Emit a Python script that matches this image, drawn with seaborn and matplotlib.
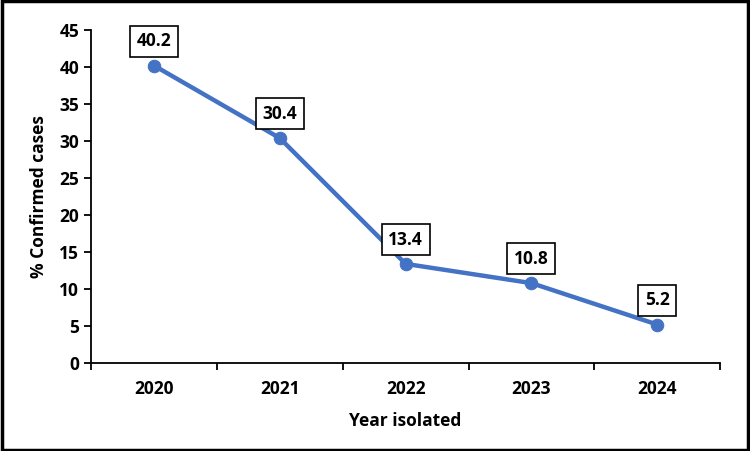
import pandas as pd
import matplotlib.pyplot as plt
import seaborn as sns
from matplotlib.ticker import FixedLocator

years = ['2020', '2021', '2022', '2023', '2024']
pct_confirmed = [40.2, 30.4, 13.4, 10.8, 5.2]

df = pd.DataFrame({'Year isolated': years, '% Confirmed cases': pct_confirmed})

sns.set_style('white')
plt.rcParams['font.family'] = ['Open Sans', 'DejaVu Sans']
plt.rcParams.update({'text.color': 'black', 'axes.labelcolor': 'black',
                     'xtick.color': 'black', 'ytick.color': 'black'})

fig = plt.figure(figsize=(7.5, 4.51), dpi=100)
ax = fig.add_axes([0.1213, 0.195, 0.839, 0.7385])

blue = '#4472C4'
sns.lineplot(data=df, x='Year isolated', y='% Confirmed cases', ax=ax,
             color=blue, linewidth=3.2, marker='o', markersize=9,
             markeredgecolor=blue, sort=False)

for i, v in enumerate(pct_confirmed):
    ax.annotate(f'{v}', (i, v), xytext=(0, 11), textcoords='offset points',
                ha='center', va='bottom', fontsize=12.5, fontweight='bold',
                bbox=dict(boxstyle='square,pad=0.38', fc='white', ec='black', lw=1.2))

ax.set_xlim(-0.5, 4.5)
ax.set_ylim(0, 45)
ax.set_yticks(range(0, 46, 5))
ax.xaxis.set_minor_locator(FixedLocator([-0.5, 0.5, 1.5, 2.5, 3.5, 4.5]))
ax.tick_params(axis='x', which='major', bottom=True, length=0, pad=12, labelsize=12.5)
ax.tick_params(axis='x', which='minor', bottom=True, length=5, width=1.3, direction='out', color='black')
ax.tick_params(axis='y', left=True, length=5, width=1.3, direction='out', color='black', labelsize=12.5)
for lab in ax.get_xticklabels() + ax.get_yticklabels():
    lab.set_fontweight('bold')

ax.set_xlabel('Year isolated', fontsize=12.5, fontweight='bold', labelpad=10)
ax.set_ylabel('% Confirmed cases', fontsize=12.5, fontweight='bold', labelpad=8)

sns.despine(ax=ax)
for s in ['left', 'bottom']:
    ax.spines[s].set_color('black')
    ax.spines[s].set_linewidth(1.3)

fig.patches.append(plt.Rectangle((0.002, 0.003), 0.995, 0.994, transform=fig.transFigure,
                                 fill=False, ec='black', lw=2.5))

fig.savefig('out.png', dpi=100)
